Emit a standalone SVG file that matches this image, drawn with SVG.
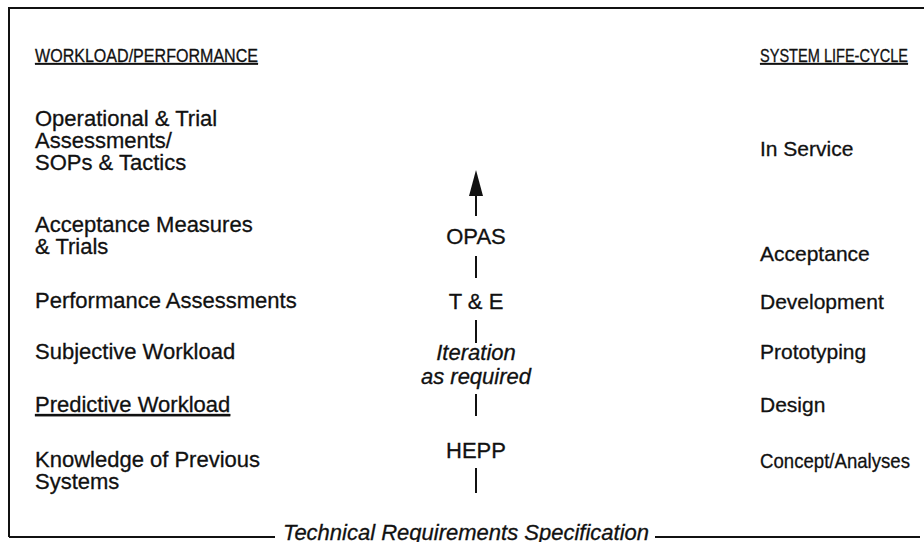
<svg xmlns="http://www.w3.org/2000/svg" width="924" height="542" viewBox="0 0 924 542">
<style>
text{font-family:"Liberation Sans",Arial,sans-serif;fill:#111;stroke:#111;stroke-width:0.3;}
.b{font-size:22px;}
.r{font-size:21px;}
.h{font-size:18px;text-decoration:underline;}
.c{text-anchor:middle;}
.i{font-style:italic;}
.ln{stroke:#111;stroke-width:2;fill:none;}
</style>
<g id="frame">
<path class="ln" d="M9,537 L9,8 L924,8"/>
<path class="ln" d="M9,537 L275,537"/>
<path class="ln" d="M655,537 L920,537"/>
<text class="b i c" x="466" y="540">Technical Requirements Specification</text>
</g>
<g id="col-left">
<text class="h" x="35" y="62" textLength="223" lengthAdjust="spacingAndGlyphs">WORKLOAD/PERFORMANCE</text>
<g id="n-opas-l"><text class="b" x="35" y="126">Operational &amp; Trial</text><text class="b" x="35" y="148">Assessments/</text><text class="b" x="35" y="170">SOPs &amp; Tactics</text></g>
<g id="n-acc-l"><text class="b" x="35" y="232">Acceptance Measures</text><text class="b" x="35" y="254">&amp; Trials</text></g>
<g id="n-perf"><text class="b" x="35" y="308">Performance Assessments</text></g>
<g id="n-subj"><text class="b" x="35" y="359">Subjective Workload</text></g>
<g id="n-pred"><text class="b" x="35" y="412" text-decoration="underline">Predictive Workload</text></g>
<g id="n-know"><text class="b" x="35" y="467">Knowledge of Previous</text><text class="b" x="35" y="489">Systems</text></g>
</g>
<g id="col-right">
<text class="h" x="760" y="62" textLength="148" lengthAdjust="spacingAndGlyphs">SYSTEM LIFE-CYCLE</text>
<g id="n-inservice"><text class="r" x="760" y="156">In Service</text></g>
<g id="n-acceptance"><text class="r" x="760" y="261">Acceptance</text></g>
<g id="n-development"><text class="r" x="760" y="309">Development</text></g>
<g id="n-prototyping"><text class="r" x="760" y="359">Prototyping</text></g>
<g id="n-design"><text class="r" x="760" y="412">Design</text></g>
<g id="n-concept"><text class="r" x="760" y="468" textLength="150" lengthAdjust="spacingAndGlyphs">Concept/Analyses</text></g>
</g>
<g id="col-center">
<g id="n-opas"><text class="b c" x="476" y="244">OPAS</text></g>
<g id="n-te"><text class="b c" x="476" y="309">T &amp; E</text></g>
<g id="n-iter"><text class="b c i" x="476" y="360">Iteration</text><text class="b c i" x="476" y="384">as required</text></g>
<g id="n-hepp"><text class="b c" x="476" y="458">HEPP</text></g>
</g>
<g id="connectors">
<polygon points="476,170 469,196 483,196" fill="#111"/>
<path class="ln" d="M476,195 L476,216"/>
<path class="ln" d="M476,256 L476,278"/>
<path class="ln" d="M476,320 L476,343"/>
<path class="ln" d="M476,394 L476,416"/>
<path class="ln" d="M476,468 L476,493"/>
</g>
</svg>
